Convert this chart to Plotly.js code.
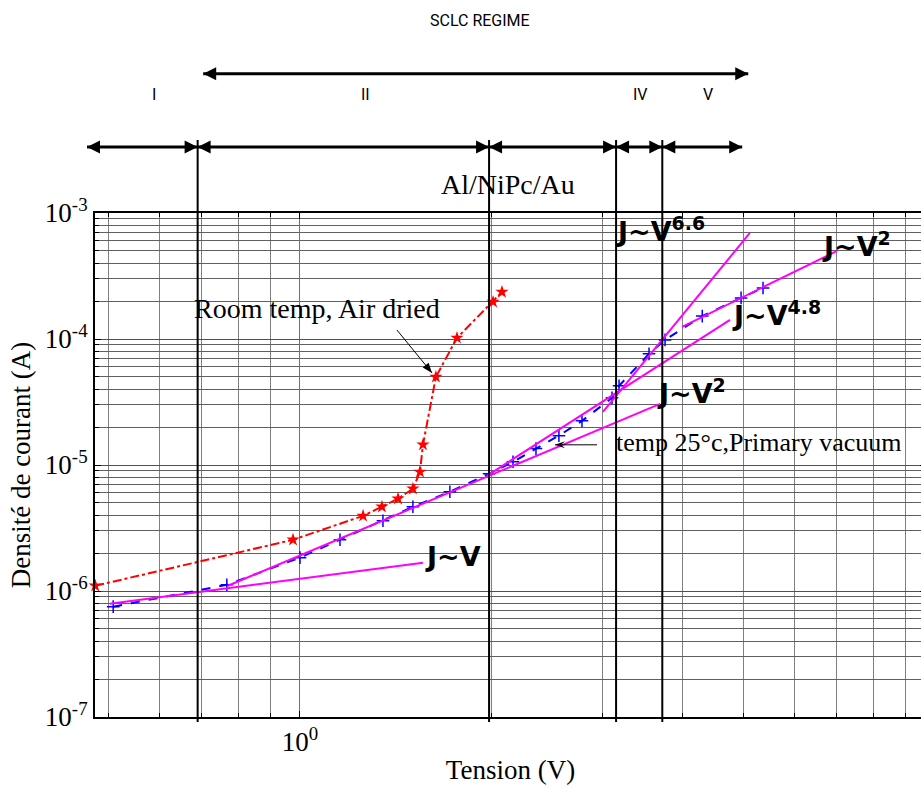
<!DOCTYPE html>
<html>
<head>
<meta charset="utf-8">
<script src="https://cdn.plot.ly/plotly-3.0.1.min.js"></script>
<style>
html,body{margin:0;padding:0;overflow:hidden;background:#fff;}
#chart{width:926px;height:787px;}
</style>
</head>
<body>
<div id="chart"></div>
<script>
// ---- data ----
const redV = [0.476, 0.975, 1.257, 1.346, 1.427, 1.506, 1.545, 1.562, 1.637, 1.767, 2.014, 2.08];
const redJ = [1.10e-6, 2.55e-6, 3.95e-6, 4.66e-6, 5.40e-6, 6.48e-6, 8.83e-6, 1.45e-5, 5.0e-5, 1.02e-4, 1.97e-4, 2.36e-4];

const blueV = [0.508, 0.767, 1.0, 1.156, 1.351, 1.506, 1.722, 1.985, 2.165, 2.353, 2.557, 2.78, 3.10, 3.18, 3.545, 3.757, 4.30, 4.95, 5.36];
const blueJ = [7.51e-7, 1.12e-6, 1.84e-6, 2.55e-6, 3.61e-6, 4.66e-6, 6.13e-6, 8.51e-6, 1.06e-5, 1.35e-5, 1.71e-5, 2.24e-5, 3.41e-5, 4.25e-5, 7.62e-5, 9.84e-5, 1.52e-4, 2.12e-4, 2.54e-4];

const fitLinV = [0.502, 1.562];  const fitLinJ = [7.93e-7, 1.677e-6];
const fitSq1V = [0.770, 3.69];   const fitSq1J = [1.10e-6, 3.06e-5];
const fit48V  = [1.970, 4.755];  const fit48J  = [8.21e-6, 1.417e-4];
const fit66V  = [3.0, 5.11];     const fit66J  = [2.64e-5, 6.94e-4];
const fitSq2V = [3.996, 7.01];   const fitSq2J = [1.247e-4, 4.997e-4];

const boundaries = [0.69, 1.985, 3.146, 3.72];      // region limits (V)
const regionArrowEnds = [0.462, 0.69, 1.985, 3.146, 3.72, 4.97];
const sclcArrow = [0.704, 5.08];
const regionLabels = ['I', 'II', 'IV', 'V'];
const regionLabelX = [0.071, 0.325, 0.657, 0.738];

// pointer arrows: [tail V, tail J, tip V, tip J]
const roomArrow = [1.421, 1.18e-4, 1.614, 5.38e-5];
const vacArrow  = [2.936, 1.446e-5, 2.521, 1.446e-5];

const yTickVals = [1e-7, 1e-6, 1e-5, 1e-4, 1e-3];
const yTickText = ['10<sup>-7</sup>', '10<sup>-6</sup>', '10<sup>-5</sup>', '10<sup>-4</sup>', '10<sup>-3</sup>'];
const xTickVals = [1];
const xTickText = ['10<sup>0</sup>'];
const xMinorVals = [0.5, 0.6, 0.7, 0.8, 0.9, 2, 3, 4, 5, 6, 7, 8, 9];
const yMinorVals = [];
for (let e = -7; e < -3; e++) for (let m = 2; m <= 9; m++) yMinorVals.push(m * Math.pow(10, e));

const xRange = [-0.3228, 0.9858];
const serif = 'Liberation Serif, Times New Roman, serif';
const boldSans = 'DejaVu Sans, sans-serif';
const MAG = '#ff00ff';
// voltage -> paper fraction along the x axis (for marks drawn outside the plot area)
const xp = v => (Math.log10(v) - xRange[0]) / (xRange[1] - xRange[0]);

const traces = [
  {x: redV, y: redJ, mode: 'lines+markers', cliponaxis: false,
   line: {color: '#ff0000', width: 2, dash: 'dashdot'},
   marker: {symbol: 'star', size: 10, color: '#ff0000'}},
  {x: blueV, y: blueJ, mode: 'lines+markers',
   line: {color: '#0000ff', width: 2, dash: 'dash'},
   marker: {symbol: 'cross-thin-open', size: 9, line: {color: '#0000ff', width: 1.5}}},
  {x: fitLinV, y: fitLinJ, mode: 'lines', line: {color: MAG, width: 2}},
  {x: fitSq1V, y: fitSq1J, mode: 'lines', line: {color: MAG, width: 2}},
  {x: fit48V, y: fit48J, mode: 'lines', line: {color: MAG, width: 2}},
  {x: fit66V, y: fit66J, mode: 'lines', line: {color: MAG, width: 2}},
  {x: fitSq2V, y: fitSq2J, mode: 'lines', line: {color: MAG, width: 2}}
];

const shapes = boundaries.map(b => ({
  type: 'line', xref: 'x', yref: 'paper', x0: b, x1: b, y0: -0.01, y1: 1.145,
  line: {color: '#000', width: 2}
}));

function head(xv, xref, yv, yref, path) {
  shapes.push({type: 'path', xref: xref, yref: yref, xsizemode: 'pixel', ysizemode: 'pixel',
    xanchor: xv, yanchor: yv, path: path, fillcolor: '#000', line: {width: 0}});
}
function dblArrow(a, b, y) {
  shapes.push({type: 'line', xref: 'paper', yref: 'paper', x0: xp(a), x1: xp(b), y0: y, y1: y,
    line: {color: '#000', width: 3}});
  head(xp(b), 'paper', y, 'paper', 'M0,0L-13,-6.5L-13,6.5Z');
  head(xp(a), 'paper', y, 'paper', 'M0,0L13,-6.5L13,6.5Z');
}
for (let i = 0; i < regionArrowEnds.length - 1; i++) dblArrow(regionArrowEnds[i], regionArrowEnds[i + 1], 1.1308);
dblArrow(sclcArrow[0], sclcArrow[1], 1.2765);

// thin pointer arrows
shapes.push({type: 'line', xref: 'x', yref: 'y', x0: roomArrow[0], y0: roomArrow[1], x1: roomArrow[2], y1: roomArrow[3],
  line: {color: '#000', width: 1}});
head(roomArrow[2], 'x', roomArrow[3], 'y', 'M0,0L-3.4,10.2L-9.3,5.4Z');
shapes.push({type: 'line', xref: 'x', yref: 'y', x0: vacArrow[0], y0: vacArrow[1], x1: vacArrow[2], y1: vacArrow[3],
  line: {color: '#000', width: 1}});
head(vacArrow[2], 'x', vacArrow[3], 'y', 'M0,0L10,-3.5L6,0L10,3.5Z');

const annotations = [];
regionLabels.forEach((t, i) => annotations.push({xref: 'paper', yref: 'paper', x: regionLabelX[i], y: 1.235,
  xanchor: 'center', yanchor: 'middle',
  text: t, showarrow: false, font: {family: 'Roboto, sans-serif', size: 16, color: '#000'}}));
annotations.push({xref: 'paper', yref: 'paper', x: 0.4633, y: 1.3826, xanchor: 'center', yanchor: 'middle',
  text: 'SCLC REGIME', showarrow: false, font: {family: 'Roboto, sans-serif', size: 16, color: '#000'}});
annotations.push({xref: 'paper', yref: 'paper', x: 0.497, y: 1.0575, xanchor: 'center', yanchor: 'middle',
  text: 'Al/NiPc/Au', showarrow: false, font: {family: serif, size: 28, color: '#000'}});

// fit labels
function fitLabel(txt, px, ly) {
  annotations.push({xref: 'x', yref: 'y', x: px, y: ly, xanchor: 'left', yanchor: 'middle',
    text: '<b>' + txt + '</b>', showarrow: false, font: {family: boldSans, size: 27, color: '#000'}});
}
fitLabel('J~V<sup>6.6</sup>', 0.4945, -3.13);
fitLabel('J~V<sup>2</sup>', 0.8189, -3.25);
fitLabel('J~V<sup>4.8</sup>', 0.6772, -3.80);
fitLabel('J~V<sup>2</sup>', 0.5591, -4.42);
fitLabel('J~V', 0.1937, -5.728);

// curve labels
annotations.push({xref: 'x', yref: 'y', x: 0.0268, y: -3.755, xanchor: 'center', yanchor: 'middle',
  text: 'Room temp, Air dried', showarrow: false, font: {family: serif, size: 28, color: '#000'}});
annotations.push({xref: 'x', yref: 'y', x: 0.4945, y: -4.82, xanchor: 'left', yanchor: 'middle',
  text: 'temp 25°c,Primary vacuum', showarrow: false, font: {family: serif, size: 26, color: '#000'}});

const layout = {
  width: 926, height: 787,
  margin: {l: 95, r: 0, t: 213, b: 70, pad: 0},
  paper_bgcolor: '#fff', plot_bgcolor: '#fff',
  showlegend: false,
  font: {family: serif, color: '#000'},
  xaxis: {
    type: 'log', range: xRange,
    tickmode: 'array', tickvals: xTickVals, ticktext: xTickText,
    tickfont: {family: serif, size: 27, color: '#000'},
    ticks: 'inside', ticklen: 6, tickcolor: '#000',
    showgrid: true, gridcolor: '#707070', gridwidth: 1,
    minor: {tickmode: 'array', tickvals: xMinorVals, showgrid: true, gridcolor: '#808080', gridwidth: 1,
            ticks: 'inside', ticklen: 4, tickcolor: '#000'},
    showline: true, linecolor: '#000', linewidth: 2, mirror: 'allticks',
    zeroline: false,
    title: {text: 'Tension (V)', font: {family: serif, size: 27, color: '#000'}, standoff: 4}
  },
  yaxis: {
    type: 'log', range: [-7, -3],
    tickmode: 'array', tickvals: yTickVals, ticktext: yTickText,
    tickfont: {family: serif, size: 27, color: '#000'},
    ticks: 'inside', ticklen: 6, tickcolor: '#000',
    showgrid: true, gridcolor: '#505050', gridwidth: 1,
    minor: {tickmode: 'array', tickvals: yMinorVals, showgrid: true, gridcolor: '#606060', gridwidth: 1,
            ticks: 'inside', ticklen: 4, tickcolor: '#000'},
    showline: true, linecolor: '#000', linewidth: 2, mirror: 'allticks',
    zeroline: false,
    title: {text: 'Densité de courant (A)', font: {family: serif, size: 27, color: '#000'}, standoff: 6}
  },
  shapes: shapes,
  annotations: annotations
};

Plotly.newPlot('chart', traces, layout, {displayModeBar: false, staticPlot: true});
</script>
</body>
</html>
